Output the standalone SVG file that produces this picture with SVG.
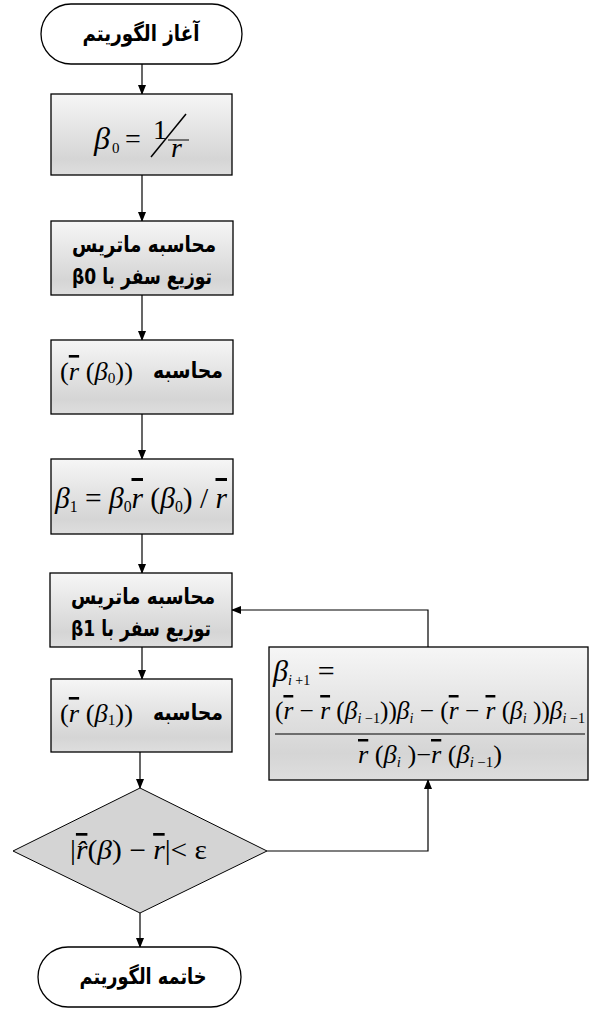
<svg xmlns="http://www.w3.org/2000/svg" width="599" height="1013" viewBox="0 0 599 1013">
<defs>
<linearGradient id="g" x1="0" y1="0" x2="0" y2="1">
<stop offset="0" stop-color="#f6f6f6"/>
<stop offset="0.8" stop-color="#d5d5d5"/>
<stop offset="1" stop-color="#dedede"/>
</linearGradient>
<marker id="ah" markerWidth="10" markerHeight="8" refX="9" refY="4" orient="auto" markerUnits="userSpaceOnUse">
<path d="M0,0 L10,4 L0,8 Z" fill="#000"/>
</marker>
<style>
.box{fill:url(#g);stroke:#000;stroke-width:1.3}
.term{fill:#fff;stroke:#000;stroke-width:1.3}
.dia{fill:#d4d4d4;stroke:#000;stroke-width:1}
.fa{font-family:"DejaVu Sans",sans-serif;font-weight:bold;fill:#000;text-anchor:middle}
.m{font-family:"Liberation Serif","Times New Roman",serif;fill:#000}
.i{font-style:italic}
.ol{text-decoration:overline}
.c{stroke:#000;stroke-width:1.2;fill:none}
</style>
</defs>
<g id="connectors">
<line class="c" x1="142" y1="64" x2="142" y2="94" marker-end="url(#ah)"/>
<line class="c" x1="142" y1="175" x2="142" y2="221" marker-end="url(#ah)"/>
<line class="c" x1="142" y1="295" x2="142" y2="340" marker-end="url(#ah)"/>
<line class="c" x1="142" y1="414" x2="142" y2="459" marker-end="url(#ah)"/>
<line class="c" x1="142" y1="534" x2="142" y2="573" marker-end="url(#ah)"/>
<line class="c" x1="142" y1="647" x2="142" y2="679" marker-end="url(#ah)"/>
<line class="c" x1="140" y1="752" x2="140" y2="788" marker-end="url(#ah)"/>
<line class="c" x1="140" y1="913" x2="140" y2="947" marker-end="url(#ah)"/>
<polyline class="c" points="267,851 428,851 428,780" marker-end="url(#ah)"/>
<polyline class="c" points="428,647 428,610 232,610" marker-end="url(#ah)"/>
</g>
<g id="start">
<rect class="term" x="41" y="4" width="201" height="60" rx="30"/>
<text class="fa" x="141" y="41" font-size="22" direction="rtl" textLength="117" lengthAdjust="spacingAndGlyphs">آغاز الگوریتم</text>
</g>
<g id="b0">
<rect class="box" x="51" y="94" width="181" height="81"/>
<text class="m i" x="94" y="149" font-size="32">β</text>
<text class="m" x="112" y="153" font-size="15">0</text>
<text class="m" x="125" y="148" font-size="28">=</text>
<text class="m" x="153" y="139" font-size="28">1</text>
<line x1="151" y1="157" x2="186" y2="114" stroke="#000" stroke-width="1.5"/>
<line x1="168" y1="140" x2="189" y2="140" stroke="#000" stroke-width="1"/>
<text class="m i" x="171" y="157" font-size="28">r</text>
</g>
<g id="zd0">
<rect class="box" x="51" y="221" width="182" height="74"/>
<text class="fa" x="144" y="252" font-size="22" direction="rtl" textLength="144" lengthAdjust="spacingAndGlyphs">محاسبه ماتریس</text>
<text class="fa" x="142" y="284" font-size="22" direction="rtl" textLength="140" lengthAdjust="spacingAndGlyphs">توزیع سفر با β0</text>
</g>
<g id="rb0">
<rect class="box" x="51" y="340" width="182" height="74"/>
<text class="m" x="60" y="380" font-size="26" textLength="73" lengthAdjust="spacingAndGlyphs"><tspan>(</tspan><tspan class="i ol">r</tspan><tspan> (</tspan><tspan class="i">β</tspan><tspan font-size="15" dy="3">0</tspan><tspan dy="-3">))</tspan></text>
<text class="fa" x="188" y="378" font-size="22" direction="rtl" textLength="70" lengthAdjust="spacingAndGlyphs">محاسبه</text>
</g>
<g id="b1">
<rect class="box" x="51" y="459" width="182" height="75"/>
<text class="m" x="55" y="508" font-size="30" textLength="172" lengthAdjust="spacingAndGlyphs"><tspan class="i">β</tspan><tspan font-size="16" dy="4">1</tspan><tspan dy="-4"> = </tspan><tspan class="i">β</tspan><tspan font-size="16" dy="4">0</tspan><tspan class="i ol" dy="-4">r</tspan><tspan> (</tspan><tspan class="i">β</tspan><tspan font-size="16" dy="4">0</tspan><tspan dy="-4">) / </tspan><tspan class="i ol">r</tspan></text>
</g>
<g id="zd1">
<rect class="box" x="50" y="573" width="182" height="74"/>
<text class="fa" x="143" y="604" font-size="22" direction="rtl" textLength="144" lengthAdjust="spacingAndGlyphs">محاسبه ماتریس</text>
<text class="fa" x="141" y="636" font-size="22" direction="rtl" textLength="140" lengthAdjust="spacingAndGlyphs">توزیع سفر با β1</text>
</g>
<g id="rb1">
<rect class="box" x="51" y="679" width="181" height="73"/>
<text class="m" x="60" y="722" font-size="26" textLength="73" lengthAdjust="spacingAndGlyphs"><tspan>(</tspan><tspan class="i ol">r</tspan><tspan> (</tspan><tspan class="i">β</tspan><tspan font-size="15" dy="3">1</tspan><tspan dy="-3">))</tspan></text>
<text class="fa" x="188" y="720" font-size="22" direction="rtl" textLength="70" lengthAdjust="spacingAndGlyphs">محاسبه</text>
</g>
<g id="update">
<rect class="box" x="269" y="647" width="319" height="133"/>
<text class="m" x="273" y="681" font-size="30"><tspan class="i">β</tspan><tspan font-size="14" dy="4"><tspan class="i">i</tspan> +1</tspan><tspan dy="-4"> =</tspan></text>
<text class="m" x="275" y="719" font-size="25" textLength="310" lengthAdjust="spacingAndGlyphs"><tspan>(</tspan><tspan class="i ol">r</tspan><tspan> − </tspan><tspan class="i ol">r</tspan><tspan> (</tspan><tspan class="i">β</tspan><tspan font-size="14" dy="4"><tspan class="i">i</tspan> −1</tspan><tspan dy="-4">))</tspan><tspan class="i">β</tspan><tspan font-size="14" dy="4" class="i">i</tspan><tspan dy="-4"> − (</tspan><tspan class="i ol">r</tspan><tspan> − </tspan><tspan class="i ol">r</tspan><tspan> (</tspan><tspan class="i">β</tspan><tspan font-size="14" dy="4" class="i">i</tspan><tspan dy="-4"> ))</tspan><tspan class="i">β</tspan><tspan font-size="14" dy="4"><tspan class="i">i</tspan> −1</tspan></text>
<line x1="275" y1="734" x2="585" y2="734" stroke="#000" stroke-width="1.2"/>
<text class="m" x="358" y="763" font-size="25" textLength="144" lengthAdjust="spacingAndGlyphs"><tspan class="i ol">r</tspan><tspan> (</tspan><tspan class="i">β</tspan><tspan font-size="14" dy="4" class="i">i</tspan><tspan dy="-4"> )−</tspan><tspan class="i ol">r</tspan><tspan> (</tspan><tspan class="i">β</tspan><tspan font-size="14" dy="4"><tspan class="i">i</tspan> −1</tspan><tspan dy="-4">)</tspan></text>
</g>
<g id="check">
<polygon class="dia" points="140,788 267,851 140,913 13,851"/>
<text class="m" x="70" y="859" font-size="27" textLength="137" lengthAdjust="spacingAndGlyphs"><tspan>|</tspan><tspan class="i ol">r̂</tspan><tspan>(</tspan><tspan class="i">β</tspan><tspan>) − </tspan><tspan class="i ol">r</tspan><tspan>|&lt; ε</tspan></text>
</g>
<g id="end">
<rect class="term" x="38" y="947" width="203" height="60" rx="30"/>
<text class="fa" x="143" y="984" font-size="22" direction="rtl" textLength="127" lengthAdjust="spacingAndGlyphs">خاتمه الگوریتم</text>
</g>
</svg>
